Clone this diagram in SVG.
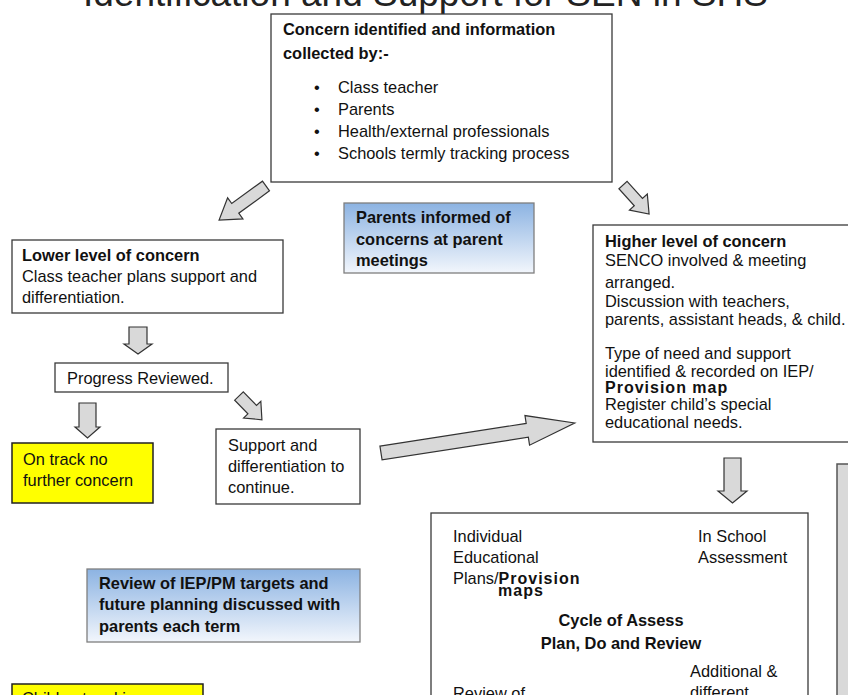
<svg xmlns="http://www.w3.org/2000/svg" width="848" height="695" viewBox="0 0 848 695">
<style>
.box{fill:#fff;stroke:#3a3a3a;stroke-width:1.3}
.yel{fill:#ffff00;stroke:#222;stroke-width:1.5}
.blue{fill:url(#bg);stroke:#7f7f7f;stroke-width:1.3}
.gray{fill:#d9d9d9;stroke:#555;stroke-width:1.5}
.t{font-family:"Liberation Sans",Arial,sans-serif;font-size:16.4px;fill:#111}
.b{font-weight:bold}
.sp{font-weight:bold;letter-spacing:1px;font-size:16px}
.blk{fill:#d9d9d9;stroke:#333;stroke-width:1.2;stroke-linejoin:miter}
.ln{stroke:#111;stroke-width:1.3;fill:none}
.title{font-family:"Liberation Sans",Arial,sans-serif;font-size:37px;fill:#222}
</style>
<defs>
<linearGradient id="bg" x1="0" y1="0" x2="0" y2="1">
<stop offset="0" stop-color="#8cb3e2"/>
<stop offset="1" stop-color="#f2f6fc"/>
</linearGradient>
<marker id="ah" markerWidth="12" markerHeight="12" refX="11" refY="6" orient="auto" markerUnits="userSpaceOnUse">
<path d="M0,0 L12,6 L0,12 Z" fill="#000"/>
</marker>
</defs>
<rect width="848" height="695" fill="#fff"/>
<text class="title" x="83" y="6">Identification and Support for SEN in SHS</text>

<g id="connectors">
<polygon class="blk" transform="translate(266,186) rotate(144)" points="0,-6 38,-6 38,-13 58,0 38,13 38,6 0,6"/>
<polygon class="blk" transform="translate(623,185) rotate(48)" points="0,-5.5 23,-5.5 23,-12 39,0 23,12 23,5.5 0,5.5"/>
<polygon class="blk" points="129,327 147,327 147,344 152,344 138,354 124,344 129,344"/>
<polygon class="blk" points="79,403 96,403 96,427 100,427 87.5,438 75,427 79,427"/>
<polygon class="blk" transform="translate(239,396) rotate(46)" points="0,-6 19,-6 19,-12 33,0 19,12 19,6 0,6"/>
<polygon class="blk" transform="translate(381,453) rotate(-8.8)" points="0,-7 148,-7 148,-15 196,0 148,15 148,7 0,7"/>
<polygon class="blk" points="724,458 741,458 741,491 747,491 732.5,503 718,491 724,491"/>
<line class="ln" x1="576" y1="568" x2="660" y2="568" marker-end="url(#ah)"/>
<line class="ln" x1="747" y1="595" x2="747" y2="657" marker-end="url(#ah)"/>
<line class="ln" x1="482" y1="667" x2="482" y2="607" marker-end="url(#ah)"/>
</g>

<g id="concern">
<rect class="box" x="271" y="14" width="341" height="168"/>
<text class="t b" x="283" y="35">Concern identified and information</text>
<text class="t b" x="283" y="59">collected by:-</text>
<g class="t">
<text x="314" y="93">•</text><text x="338" y="93">Class teacher</text>
<text x="314" y="115">•</text><text x="338" y="115">Parents</text>
<text x="314" y="137">•</text><text x="338" y="137">Health/external professionals</text>
<text x="314" y="159">•</text><text x="338" y="159">Schools termly tracking process</text>
</g>
</g>

<g id="parents-informed">
<rect class="blue" x="344" y="203" width="190" height="70"/>
<text class="t b" x="356" y="223">Parents informed of</text>
<text class="t b" x="356" y="245">concerns at parent</text>
<text class="t b" x="356" y="266">meetings</text>
</g>

<g id="lower">
<rect class="box" x="12" y="240" width="271" height="73"/>
<text class="t b" x="22" y="261">Lower level of concern</text>
<text class="t" x="22" y="282">Class teacher plans support and</text>
<text class="t" x="22" y="303">differentiation.</text>
</g>

<g id="progress">
<rect class="box" x="55" y="363" width="173" height="29"/>
<text class="t" x="67" y="384">Progress Reviewed.</text>
</g>

<g id="ontrack">
<rect class="yel" x="12" y="443" width="141" height="60"/>
<text class="t" x="23" y="465">On track no</text>
<text class="t" x="23" y="486">further concern</text>
</g>

<g id="support">
<rect class="box" x="216" y="429" width="144" height="75"/>
<text class="t" x="228" y="451">Support and</text>
<text class="t" x="228" y="472">differentiation to</text>
<text class="t" x="228" y="493">continue.</text>
</g>

<g id="higher">
<rect class="box" x="593" y="225" width="270" height="217"/>
<text class="t b" x="605" y="247">Higher level of concern</text>
<text class="t" x="605" y="266">SENCO involved &amp; meeting</text>
<text class="t" x="605" y="288">arranged.</text>
<text class="t" x="605" y="307">Discussion with teachers,</text>
<text class="t" x="605" y="325">parents, assistant heads, &amp; child.</text>
<text class="t" x="605" y="359">Type of need and support</text>
<text class="t" x="605" y="377">identified &amp; recorded on IEP/</text>
<text class="t sp" x="605" y="393">Provision map</text>
<text class="t" x="605" y="410">Register child’s special</text>
<text class="t" x="605" y="428">educational needs.</text>
</g>

<g id="review-blue">
<rect class="blue" x="87" y="569" width="273" height="73"/>
<text class="t b" x="99" y="589">Review of IEP/PM targets and</text>
<text class="t b" x="99" y="610">future planning discussed with</text>
<text class="t b" x="99" y="632">parents each term</text>
</g>

<g id="cycle">
<rect class="box" x="431" y="513" width="377" height="200"/>
<text class="t" x="453" y="542">Individual</text>
<text class="t" x="453" y="563">Educational</text>
<text class="t" x="453" y="584">Plans/<tspan class="sp">Provision</tspan></text>
<text class="t sp" x="498" y="596">maps</text>
<text class="t" x="698" y="542">In School</text>
<text class="t" x="698" y="563">Assessment</text>
<text class="t b" x="621" y="626" text-anchor="middle" font-size="18">Cycle of Assess</text>
<text class="t b" x="621" y="649" text-anchor="middle" font-size="18">Plan, Do and Review</text>
<text class="t" x="690" y="677">Additional &amp;</text>
<text class="t" x="690" y="698">different</text>
<text class="t" x="453" y="699">Review of</text>
</g>

<g id="child">
<rect class="yel" x="12" y="684" width="191" height="30"/>
<text class="t" x="22" y="704">Child not making</text>
</g>

<g id="side-panel">
<rect class="gray" x="837" y="464" width="20" height="240"/>
</g>
</svg>
